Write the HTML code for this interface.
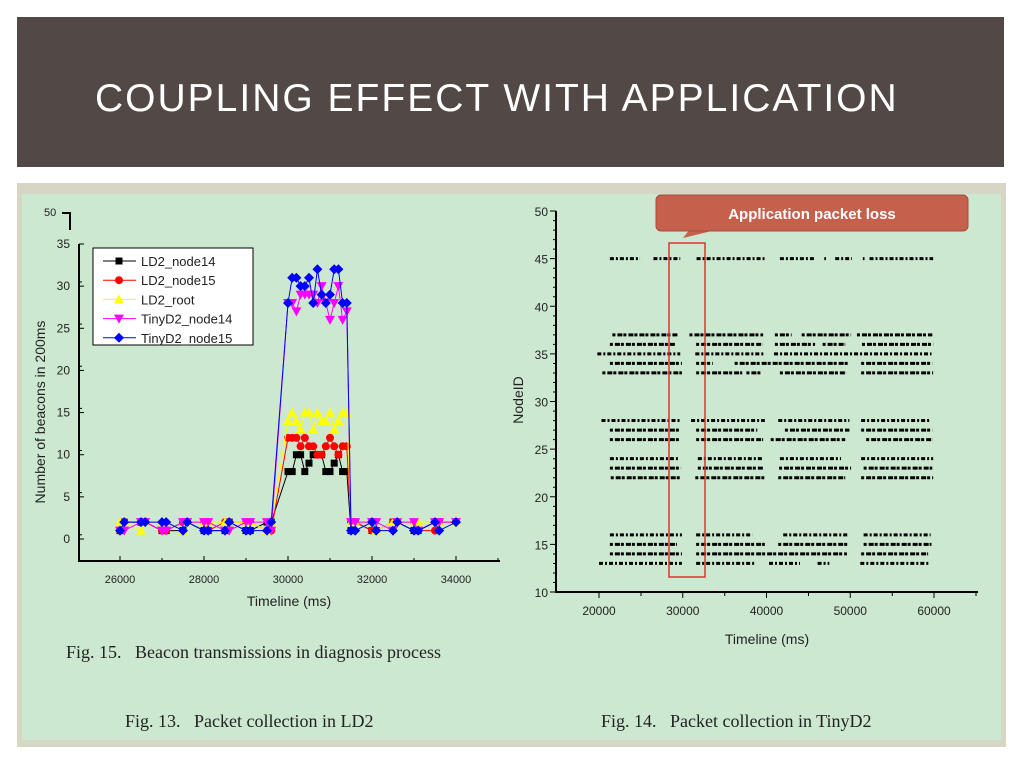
<!DOCTYPE html>
<html><head><meta charset="utf-8"><style>
body{margin:0;width:1024px;height:768px;background:#fff;position:relative;overflow:hidden;font-family:"Liberation Sans",sans-serif}
#title{position:absolute;left:17px;top:17px;width:987px;height:150px;background:#524846}
#title h1{position:absolute;left:78px;top:62px;margin:0;color:#fff;font-weight:normal;font-size:39px;letter-spacing:2px;line-height:1}
#panel{position:absolute;left:17px;top:183px;width:989px;height:564px;background:#d5d6c4}
svg{position:absolute;left:0;top:0}
</style></head><body>
<div id="title"><h1>COUPLING EFFECT WITH APPLICATION</h1></div>
<div id="panel"></div>
<svg id="s" width="1024" height="768">
<rect x="22" y="194" width="979" height="546" fill="#cde8d0"/>
<g id="left"></g>
<g id="right"></g>
<text x="66" y="658" font-family="Liberation Serif,serif" font-size="18" fill="#222">Fig. 15.&#160;&#160; Beacon transmissions in diagnosis process</text>
<text x="125" y="727" font-family="Liberation Serif,serif" font-size="18" fill="#222">Fig. 13.&#160;&#160; Packet collection in LD2</text>
<text x="601" y="727" font-family="Liberation Serif,serif" font-size="18" fill="#222">Fig. 14.&#160;&#160; Packet collection in TinyD2</text>
<rect x="669" y="243" width="36" height="334" fill="none" stroke="#e03030" stroke-width="1.5"/>
<path d="M690,229 L683,238 L720,229 Z" fill="#c4604c"/>
<rect x="656" y="195" width="312" height="36" rx="5" fill="#c4604c" stroke="#a84c3c"/>
<text x="812" y="219" text-anchor="middle" fill="#fff" font-weight="bold" font-size="15">Application packet loss</text>
</svg>
<script>
const lx=[26000,26100,26500,26600,27000,27100,27500,27600,28000,28100,28500,28600,29000,29100,29500,29600,30000,30100,30200,30300,30400,30500,30600,30700,30800,30900,31000,31100,31200,31300,31400,31500,31600,32000,32100,32500,32600,33000,33100,33500,33600,34000];
const blackY=[1,2,2,2,1,1,1,2,1,1,1,2,1,1,2,2,8,8,10,10,8,9,10,10,10,8,8,9,10,8,8,1,2,1,1,2,2,1,1,2,2,2];
const redY=[1,2,2,2,1,1,2,2,2,1,2,2,2,2,1,1,12,12,12,11,12,11,11,10,10,11,12,11,10,11,11,2,2,1,1,2,2,2,1,1,2,2];
const yellowY=[2,2,1,2,2,2,1,2,2,2,2,2,2,2,1,2,14,15,14,13,15,15,13,15,14,14,15,13,14,15,15,2,2,2,1,2,2,2,2,2,2,2];
const magentaY=[1,1,2,2,1,1,2,2,2,2,1,1,2,2,2,1,28,28,27,29,29,29,29,28,30,28,26,28,30,26,27,2,2,2,2,1,2,2,1,2,2,2];
const blueY=[1,2,2,2,2,2,1,2,1,1,1,2,1,1,1,2,28,31,31,30,30,31,28,32,29,28,29,32,32,28,28,1,1,2,1,1,2,1,1,2,1,2];
const seriesNames=["LD2_node14","LD2_node15","LD2_root","TinyD2_node14","TinyD2_node15"];
const leftXTicks=[26000,28000,30000,32000,34000];
const leftYTicks=[0,5,10,15,20,25,30,35];
// right chart rows: node id and [start,end] ms ranges of received packets
const rowIds=[45,37,36,35,34,33,28,27,26,24,23,22,16,15,14,13];
const rowRanges=[
[[21300,24900],[26500,29700],[31650,39800],[41600,45800],[46900,47100],[48200,50200],[51500,51700],[52300,59900]],
[[21600,29400],[30800,39600],[41000,43000],[44200,50100],[50800,59800]],
[[21300,29100],[31600,39500],[41000,45800],[46700,49400],[51400,59900]],
[[19800,29700],[31500,39800],[40900,59700]],
[[21300,29900],[31600,33600],[36200,49700],[51300,59800]],
[[20400,29900],[31600,37100],[37600,39500],[41600,49500],[51300,59900]],
[[20300,29700],[31000,39800],[41400,49900],[51300,59600]],
[[21300,29700],[31600,38900],[42200,49900],[51300,59800]],
[[21300,29700],[31600,39600],[40500,49400],[51900,59800]],
[[21300,29600],[31800,39600],[41600,48900],[51300,59900]],
[[21300,29800],[31800,39600],[41500,50100],[51600,59800]],
[[21400,29700],[31500,39900],[41400,49400],[51300,59900]],
[[21300,29900],[31600,38300],[42000,49700],[51600,59600]],
[[21300,29300],[31600,39800],[41400,49800],[51600,59700]],
[[21300,29900],[31600,49600],[51300,59300]],
[[20000,29900],[31600,38600],[40300,44000],[46100,47500],[51200,59500]]];
const rightXTicks=[20000,30000,40000,50000,60000];
const rightYTicks=[10,15,20,25,30,35,40,45,50];

const NS="http://www.w3.org/2000/svg";
function mk(p,t,a,txt){const e=document.createElementNS(NS,t);for(const k in a)e.setAttribute(k,a[k]);if(txt!==undefined)e.textContent=txt;p.appendChild(e);return e;}
// left
const L=document.getElementById('left');
const lX=v=>120+(v-26000)*(336/8000);
const lY=v=>539-v*(295/35);
let e;
e=mk(L,'line',{x1:79,y1:244,x2:79,y2:561,stroke:'#000','stroke-width':2});


e=mk(L,'line',{x1:78,y1:561,x2:500,y2:561,stroke:'#000','stroke-width':2});


mk(L,'path',{d:'M62,213 L70,213 L70,230',fill:'none',stroke:'#000','stroke-width':2});
mk(L,'text',{x:44,y:216,'font-size':11,fill:'#222'},'50');
leftYTicks.forEach(v=>{const y=lY(v);
 mk(L,'line',{x1:79,y1:y,x2:84,y2:y,stroke:'#000'});
 if(v<35)mk(L,'line',{x1:79,y1:y-4.2,x2:82,y2:y-4.2,stroke:'#000'});
 const t=mk(L,'text',{x:70,y:y+4,'text-anchor':'end','font-size':12,fill:'#222'},String(v));
 
 });
leftXTicks.forEach(v=>{const x=lX(v);
 mk(L,'line',{x1:x,y1:561,x2:x,y2:556,stroke:'#000'});
 mk(L,'line',{x1:x+42,y1:561,x2:x+42,y2:558,stroke:'#000'});
 const t=mk(L,'text',{x:x,y:583,'text-anchor':'middle','font-size':11,fill:'#222'},String(v));
 
 });
e=mk(L,'text',{x:289,y:606,'text-anchor':'middle','font-size':14,fill:'#222'},'Timeline (ms)');


e=mk(L,'text',{x:0,y:0,'text-anchor':'middle','font-size':14,fill:'#222',transform:'translate(45,412) rotate(-90)'},'Number of beacons in 200ms');


const series=[[blackY,'#000','sq'],[redY,'#f00','ci'],[yellowY,'#ff0','tu'],[magentaY,'#f0f','td'],[blueY,'#00f','di']];
function marker(g,s,x,y,c){
 if(s==='sq')return mk(g,'rect',{x:x-3.5,y:y-3.5,width:7,height:7,fill:c});
 if(s==='ci')return mk(g,'circle',{cx:x,cy:y,r:4,fill:c});
 if(s==='tu')return mk(g,'path',{d:`M${x},${y-5}L${x+5},${y+4}L${x-5},${y+4}Z`,fill:c});
 if(s==='td')return mk(g,'path',{d:`M${x},${y+5}L${x+5},${y-4}L${x-5},${y-4}Z`,fill:c});
 return mk(g,'path',{d:`M${x},${y-5}L${x+5},${y}L${x},${y+5}L${x-5},${y}Z`,fill:c});}
series.forEach((s,i)=>{const g=mk(L,'g',{});
 
 
 mk(g,'polyline',{points:lx.map((x,j)=>lX(x)+','+lY(s[0][j])).join(' '),fill:'none',stroke:s[1],'stroke-width':1});
 lx.forEach((x,j)=>{const m=marker(g,s[2],lX(x),lY(s[0][j]),s[1]);
  
  });});
const lg=mk(L,'g',{});


mk(lg,'rect',{x:93,y:248,width:160,height:97,fill:'#fff',stroke:'#000'});
seriesNames.forEach((n,i)=>{const y=261+i*19.2;
 mk(lg,'line',{x1:103,y1:y,x2:136,y2:y,stroke:series[i][1]});
 marker(lg,series[i][2],119,y,series[i][1]);
 const t=mk(lg,'text',{x:141,y:y+5,'font-size':13,fill:'#222'},n);
 
 });
// right
const R=document.getElementById('right');
const rX=v=>599+(v-20000)*(335/40000);
const rY=v=>592-(v-10)*(381/40);
e=mk(R,'line',{x1:556,y1:211,x2:556,y2:592,stroke:'#000','stroke-width':2});


e=mk(R,'line',{x1:555,y1:592,x2:978,y2:592,stroke:'#000','stroke-width':2});


rightYTicks.forEach(v=>{const y=rY(v);
 mk(R,'line',{x1:550,y1:y,x2:556,y2:y,stroke:'#000'});
 for(let k=1;k<5&&v<50;k++)mk(R,'line',{x1:553,y1:y-k*9.5,x2:556,y2:y-k*9.5,stroke:'#000'});
 const t=mk(R,'text',{x:548,y:y+5,'text-anchor':'end','font-size':12,fill:'#222'},String(v));
 
 });
rightXTicks.forEach(v=>{const x=rX(v);
 mk(R,'line',{x1:x,y1:592,x2:x,y2:598,stroke:'#000'});
 mk(R,'line',{x1:x+42,y1:592,x2:x+42,y2:596,stroke:'#000'});
 const t=mk(R,'text',{x:x,y:615,'text-anchor':'middle','font-size':12,fill:'#222'},String(v));
 
 });
e=mk(R,'text',{x:767,y:644,'text-anchor':'middle','font-size':14,fill:'#222'},'Timeline (ms)');


e=mk(R,'text',{x:0,y:0,'text-anchor':'middle','font-size':14,fill:'#222',transform:'translate(523,400) rotate(-90)'},'NodeID');


rowIds.forEach((id,i)=>{const g=mk(R,'g',{});
 
 
 rowRanges[i].forEach(r=>{const l=mk(g,'line',{x1:rX(r[0]),y1:rY(id),x2:rX(r[1]),y2:rY(id),stroke:'#000','stroke-width':3,'stroke-dasharray':(i%3===0?'4 2 2 2':'3 2 5 1')});
  
  });});
</script>
</body></html>
